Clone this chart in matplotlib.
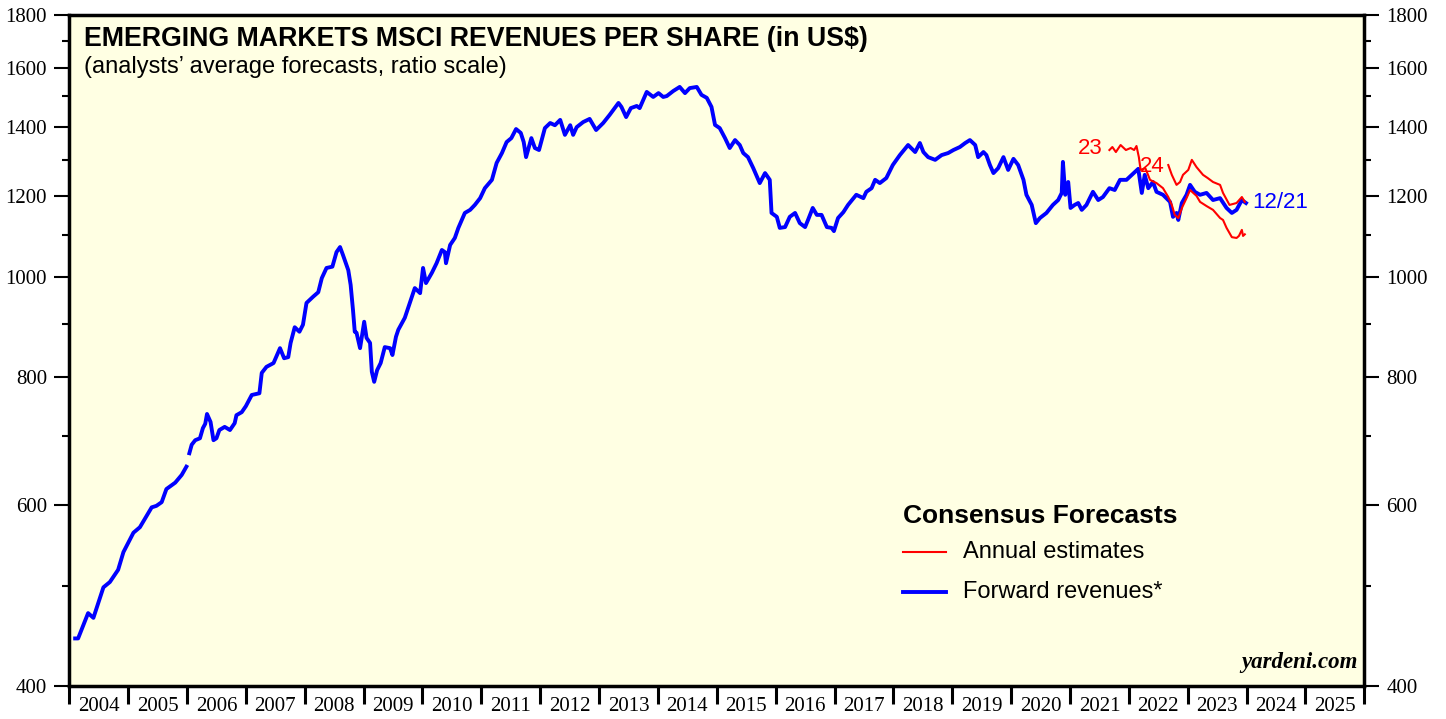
import numpy as np
import matplotlib
matplotlib.use("Agg")
import matplotlib.pyplot as plt
from matplotlib.ticker import FixedLocator, NullFormatter

# forward revenues per share (blue), decimal years; gap at the start of 2006
fwd_dates = [2004.10, 2004.15, 2004.32, 2004.41, 2004.58, 2004.69, 2004.83, 2004.92, 2005.09, 2005.20,
             2005.40, 2005.48, 2005.57, 2005.65, 2005.80, 2005.91, 2005.99, 2006.015,
             2006.04, 2006.08, 2006.14, 2006.22, 2006.27, 2006.31, 2006.34, 2006.40, 2006.45, 2006.50,
             2006.55, 2006.64, 2006.73, 2006.81, 2006.84, 2006.93, 2007.00, 2007.10, 2007.23, 2007.27,
             2007.35, 2007.47, 2007.58, 2007.65, 2007.72, 2007.76, 2007.83, 2007.91, 2007.97, 2008.03,
             2008.14, 2008.23, 2008.29, 2008.37, 2008.47, 2008.54, 2008.60, 2008.65, 2008.74, 2008.78,
             2008.82, 2008.85, 2008.88, 2008.94, 2009.01, 2009.05, 2009.11, 2009.14, 2009.18, 2009.23,
             2009.29, 2009.36, 2009.45, 2009.49, 2009.55, 2009.59, 2009.70, 2009.76, 2009.87, 2009.96,
             2010.01, 2010.06, 2010.16, 2010.24, 2010.33, 2010.38, 2010.40, 2010.47, 2010.55, 2010.61,
             2010.72, 2010.81, 2010.89, 2010.98, 2011.06, 2011.18, 2011.26, 2011.35, 2011.43, 2011.51,
             2011.59, 2011.67, 2011.72, 2011.76, 2011.85, 2011.91, 2011.98, 2012.08, 2012.17, 2012.25,
             2012.34, 2012.42, 2012.51, 2012.56, 2012.62, 2012.73, 2012.84, 2012.95, 2013.07, 2013.18,
             2013.33, 2013.38, 2013.46, 2013.54, 2013.64, 2013.69, 2013.81, 2013.92, 2014.01, 2014.09,
             2014.15, 2014.26, 2014.37, 2014.46, 2014.54, 2014.66, 2014.74, 2014.83, 2014.91, 2014.97,
             2015.05, 2015.14, 2015.22, 2015.31, 2015.39, 2015.45, 2015.53, 2015.62, 2015.73, 2015.82,
             2015.90, 2015.93, 2016.02, 2016.07, 2016.16, 2016.24, 2016.33, 2016.41, 2016.50, 2016.55,
             2016.63, 2016.70, 2016.78, 2016.87, 2016.95, 2016.99, 2017.06, 2017.15, 2017.23, 2017.37,
             2017.49, 2017.54, 2017.63, 2017.69, 2017.77, 2017.88, 2017.99, 2018.11, 2018.25, 2018.37,
             2018.45, 2018.51, 2018.59, 2018.71, 2018.82, 2018.93, 2019.02, 2019.13, 2019.22, 2019.30,
             2019.39, 2019.44, 2019.53, 2019.58, 2019.64, 2019.70, 2019.78, 2019.87, 2019.95, 2020.04,
             2020.12, 2020.21, 2020.26, 2020.35, 2020.42, 2020.49, 2020.60, 2020.71, 2020.80, 2020.86,
             2020.88, 2020.92, 2020.97, 2021.01, 2021.08, 2021.14, 2021.20, 2021.28, 2021.39, 2021.48,
             2021.56, 2021.67, 2021.76, 2021.85, 2021.96, 2022.05, 2022.16, 2022.22, 2022.27, 2022.33,
             2022.41, 2022.47, 2022.58, 2022.70, 2022.75, 2022.81, 2022.84, 2022.90, 2022.98, 2023.04,
             2023.12, 2023.21, 2023.32, 2023.43, 2023.55, 2023.66, 2023.75, 2023.83, 2023.92, 2023.99]
fwd_values = [445, 445, 471, 466, 499, 505, 519, 540, 564, 571,
              597, 599, 604, 622, 631, 642, 654, np.nan,
              674, 687, 694, 697, 713, 720, 736, 723, 694, 697,
              710, 715, 710, 721, 734, 739, 749, 768, 771, 807,
              818, 825, 853, 834, 836, 863, 894, 885, 899, 944,
              957, 967, 998, 1021, 1024, 1058, 1070, 1051, 1016, 983,
              929, 885, 883, 853, 905, 873, 863, 809, 791, 812,
              825, 855, 853, 840, 875, 889, 913, 935, 976, 965,
              1021, 987, 1010, 1032, 1063, 1058, 1032, 1075, 1092, 1117,
              1155, 1163, 1176, 1194, 1221, 1244, 1292, 1321, 1354, 1366,
              1394, 1382, 1354, 1309, 1366, 1336, 1330, 1397, 1413, 1406,
              1423, 1376, 1406, 1376, 1400, 1416, 1426, 1391, 1413, 1439,
              1478, 1465, 1432, 1461, 1468, 1461, 1515, 1498, 1511, 1498,
              1501, 1518, 1532, 1511, 1528, 1532, 1505, 1495, 1465, 1407,
              1397, 1366, 1336, 1360, 1345, 1321, 1309, 1277, 1235, 1263,
              1244, 1155, 1145, 1117, 1119, 1145, 1155, 1129, 1119, 1137,
              1168, 1150, 1150, 1119, 1117, 1109, 1142, 1157, 1176, 1203,
              1194, 1211, 1221, 1244, 1235, 1249, 1286, 1315, 1345, 1324,
              1351, 1324, 1309, 1301, 1315, 1321, 1330, 1339, 1351, 1360,
              1345, 1309, 1324, 1315, 1286, 1263, 1277, 1309, 1272, 1304,
              1286, 1244, 1203, 1176, 1129, 1142, 1155, 1176, 1189, 1208,
              1295, 1203, 1238, 1168, 1176, 1181, 1163, 1176, 1211, 1189,
              1197, 1221, 1216, 1244, 1244, 1258, 1275, 1208, 1258, 1221,
              1238, 1211, 1203, 1184, 1145, 1155, 1137, 1181, 1203, 1230,
              1211, 1203, 1208, 1189, 1194, 1168, 1155, 1163, 1189, 1181]

# annual consensus estimates (red)
est23_dates = [2021.67, 2021.72, 2021.78, 2021.86, 2021.95, 2022.03, 2022.09, 2022.13, 2022.17, 2022.20,
               2022.28, 2022.36, 2022.47, 2022.58, 2022.67, 2022.73, 2022.78, 2022.84, 2022.91, 2022.98,
               2023.04, 2023.15, 2023.21, 2023.32, 2023.43, 2023.55, 2023.60, 2023.66, 2023.75, 2023.83,
               2023.87, 2023.92, 2023.94, 2023.97]
est23_values = [1330, 1339, 1324, 1345, 1330, 1336, 1330, 1342, 1309, 1272,
                1277, 1244, 1235, 1221, 1197, 1176, 1150, 1142, 1171, 1194,
                1216, 1200, 1184, 1173, 1163, 1142, 1137, 1117, 1094, 1092,
                1097, 1112, 1097, 1101]
est24_dates = [2022.67, 2022.73, 2022.81, 2022.87, 2022.92, 2023.01, 2023.07, 2023.15, 2023.26, 2023.34,
               2023.43, 2023.55, 2023.60, 2023.71, 2023.83, 2023.92, 2023.97]
est24_values = [1286, 1258, 1230, 1238, 1258, 1272, 1301, 1280, 1258, 1249,
                1238, 1230, 1208, 1176, 1181, 1197, 1184]

years = list(range(2004, 2026))
y_major = [400, 600, 800, 1000, 1200, 1400, 1600, 1800]
y_minor = [500, 700, 900, 1100, 1300, 1500, 1700]

serif = "Liberation Serif"
sans = "Liberation Sans"
BLUE = "#0000FF"
RED = "#FF0000"

fig = plt.figure(figsize=(14.46, 7.19), dpi=100)
ax = fig.add_axes([0.0479, 0.0459, 0.8956, 0.9332])
ax.set_facecolor("#FFFFE3")

ax.plot(fwd_dates, fwd_values, color=BLUE, lw=2.8, solid_joinstyle="round")
ax.plot(est23_dates, est23_values, color=RED, lw=1.5)
ax.plot(est24_dates, est24_values, color=RED, lw=1.5)

ax.set_yscale("log")
ax.set_ylim(400, 1800)
ax.set_xlim(2004, 2026)

# y axis: ticks and labels on both sides
ax.yaxis.set_major_locator(FixedLocator(y_major))
ax.yaxis.set_minor_locator(FixedLocator(y_minor))
ax.yaxis.set_minor_formatter(NullFormatter())
ax.set_yticklabels([str(v) for v in y_major])
ax.tick_params(axis="y", which="major", direction="out", length=11, width=1.5,
               left=True, right=True, labelleft=True, labelright=True, pad=5,
               labelsize=15)
ax.tick_params(axis="y", which="minor", direction="out", length=5, width=1.5,
               left=True, right=True)

# x axis: tick marks at year boundaries, labels centered in each year
ax.xaxis.set_major_locator(FixedLocator(years + [2026]))
ax.xaxis.set_major_formatter(NullFormatter())
ax.xaxis.set_minor_locator(FixedLocator([y + 0.5 for y in years]))
ax.set_xticklabels([str(y) for y in years], minor=True)
ax.tick_params(axis="x", which="major", direction="out", length=13, width=2.2)
ax.tick_params(axis="x", which="minor", length=0, pad=8, labelsize=15)

for lab in ax.get_xticklabels(minor=True) + ax.get_yticklabels():
    lab.set_fontfamily(serif)
for lab in ax.yaxis.get_ticklabels(which="major"):
    lab.set_fontfamily(serif)

for sp in ax.spines.values():
    sp.set_linewidth(2.5)

ax.text(0.0115, 0.965, "EMERGING MARKETS MSCI REVENUES PER SHARE (in US$)",
        transform=ax.transAxes, fontsize=19.3, fontweight="bold", family=sans,
        va="center", ha="left")
ax.text(0.0115, 0.922, "(analysts\u2019 average forecasts, ratio scale)",
        transform=ax.transAxes, fontsize=17, family=sans, va="center", ha="left")

ax.text(2021.56, 1336, "23", color=RED, fontsize=16, family=sans, va="center", ha="right")
ax.text(2022.18, 1282, "24", color=RED, fontsize=16, family=sans, va="center", ha="left")
ax.text(2024.1, 1183, "12/21", color=BLUE, fontsize=16, family=sans, va="center", ha="left")

# legend block
ax.text(0.644, 0.253, "Consensus Forecasts", transform=ax.transAxes, fontsize=19,
        fontweight="bold", family=sans, va="center", ha="left")
ax.plot([0.644, 0.677], [0.199, 0.199], transform=ax.transAxes, color=RED, lw=1.5)
ax.plot([0.644, 0.677], [0.140, 0.140], transform=ax.transAxes, color=BLUE, lw=2.8)
ax.text(0.690, 0.199, "Annual estimates", transform=ax.transAxes, fontsize=17,
        family=sans, va="center", ha="left")
ax.text(0.690, 0.140, "Forward revenues*", transform=ax.transAxes, fontsize=17,
        family=sans, va="center", ha="left")

ax.text(0.9945, 0.02, "yardeni.com", transform=ax.transAxes, fontsize=16.5,
        fontweight="bold", fontstyle="italic", family=serif, va="bottom", ha="right")

fig.savefig("out.png", dpi=100, facecolor="white")
